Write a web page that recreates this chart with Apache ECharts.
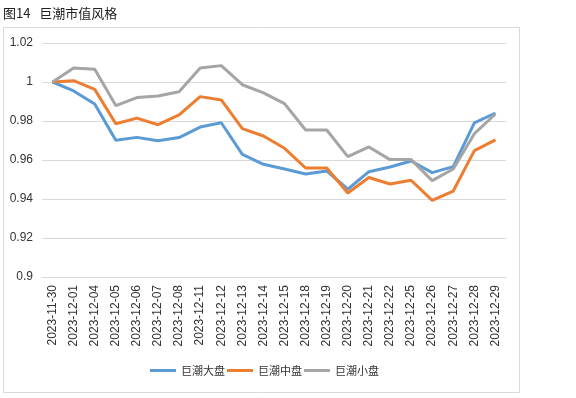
<!DOCTYPE html>
<html>
<head>
<meta charset="utf-8">
<script src="https://cdn.jsdelivr.net/npm/echarts@6/dist/echarts.min.js"></script>
<style>
  html, body { margin: 0; padding: 0; background: #fff; }
  #chart { width: 576px; height: 398px; }
</style>
</head>
<body>
<div id="chart"></div>
<script>
// 日期分类
const dates = [
    '2023-11-30', '2023-12-01', '2023-12-04', '2023-12-05', '2023-12-06', '2023-12-07',
    '2023-12-08', '2023-12-11', '2023-12-12', '2023-12-13', '2023-12-14', '2023-12-15',
    '2023-12-18', '2023-12-19', '2023-12-20', '2023-12-21', '2023-12-22', '2023-12-25',
    '2023-12-26', '2023-12-27', '2023-12-28', '2023-12-29'
];

// 三条净值曲线
const bigCap = [
    1.0000, 0.9954, 0.9887, 0.9701, 0.9716, 0.9699, 0.9715, 0.9769, 0.9791, 0.9629, 0.9578,
    0.9554, 0.9528, 0.9544, 0.9450, 0.9540, 0.9564, 0.9595, 0.9535, 0.9566, 0.9790, 0.9841
];
const midCap = [
    1.0000, 1.0007, 0.9962, 0.9786, 0.9815, 0.9781, 0.9831, 0.9925, 0.9908, 0.9761, 0.9723,
    0.9660, 0.9559, 0.9559, 0.9431, 0.9510, 0.9477, 0.9496, 0.9393, 0.9441, 0.9648, 0.9703
];
const smallCap = [
    1.0000, 1.0072, 1.0065, 0.9879, 0.9920, 0.9928, 0.9950, 1.0072, 1.0084, 0.9986, 0.9944,
    0.9889, 0.9754, 0.9754, 0.9617, 0.9667, 0.9602, 0.9602, 0.9494, 0.9554, 0.9735, 0.9836
];

const seriesNames = ['巨潮大盘', '巨潮中盘', '巨潮小盘'];
const colors = ['#5B9BD5', '#ED7D31', '#A5A5A5'];

const font = '"Liberation Sans", "Noto Sans CJK SC", sans-serif';

const chart = echarts.init(document.getElementById('chart'), null, { renderer: 'canvas' });

const makeLine = (name, data, color) => ({
    name: name,
    type: 'line',
    data: data,
    symbol: 'none',
    lineStyle: { width: 3, color: color },
    itemStyle: { color: color }
});

chart.setOption({
    animation: false,
    textStyle: { fontFamily: font },
    graphic: [
        {
            type: 'text', left: 3, top: 7,
            style: { text: '图14   巨潮市值风格', font: '13px "Noto Sans CJK SC", sans-serif', fill: '#222' }
        },
        {
            type: 'rect', shape: { x: 3.5, y: 27.5, width: 516, height: 365 },
            style: { fill: 'none', stroke: '#d9d9d9', lineWidth: 1 }, silent: true
        }
    ],
    legend: {
        bottom: 17,
        left: 145,
        itemWidth: 26,
        itemHeight: 3,
        itemGap: 2,
        icon: 'rect',
        textStyle: { fontSize: 11, color: '#333', fontFamily: '"Noto Sans CJK SC", sans-serif' },
        data: seriesNames
    },
    grid: { left: 42, right: 70, top: 43, bottom: 121, containLabel: false },
    xAxis: {
        type: 'category',
        data: dates,
        boundaryGap: true,
        axisLine: { show: true, lineStyle: { color: '#d9d9d9' } },
        axisTick: { show: false },
        axisLabel: { rotate: 90, interval: 0, fontSize: 12, color: '#333', margin: 8 }
    },
    yAxis: {
        type: 'value',
        min: 0.9,
        max: 1.02,
        interval: 0.02,
        axisLine: { show: false },
        axisTick: { show: false },
        splitLine: { lineStyle: { color: '#d9d9d9' } },
        axisLabel: {
            fontSize: 12, color: '#333', margin: 9,
            formatter: v => String(parseFloat(v.toFixed(2)))
        }
    },
    series: [
        makeLine(seriesNames[0], bigCap, colors[0]),
        makeLine(seriesNames[1], midCap, colors[1]),
        makeLine(seriesNames[2], smallCap, colors[2])
    ]
});
</script>
</body>
</html>
